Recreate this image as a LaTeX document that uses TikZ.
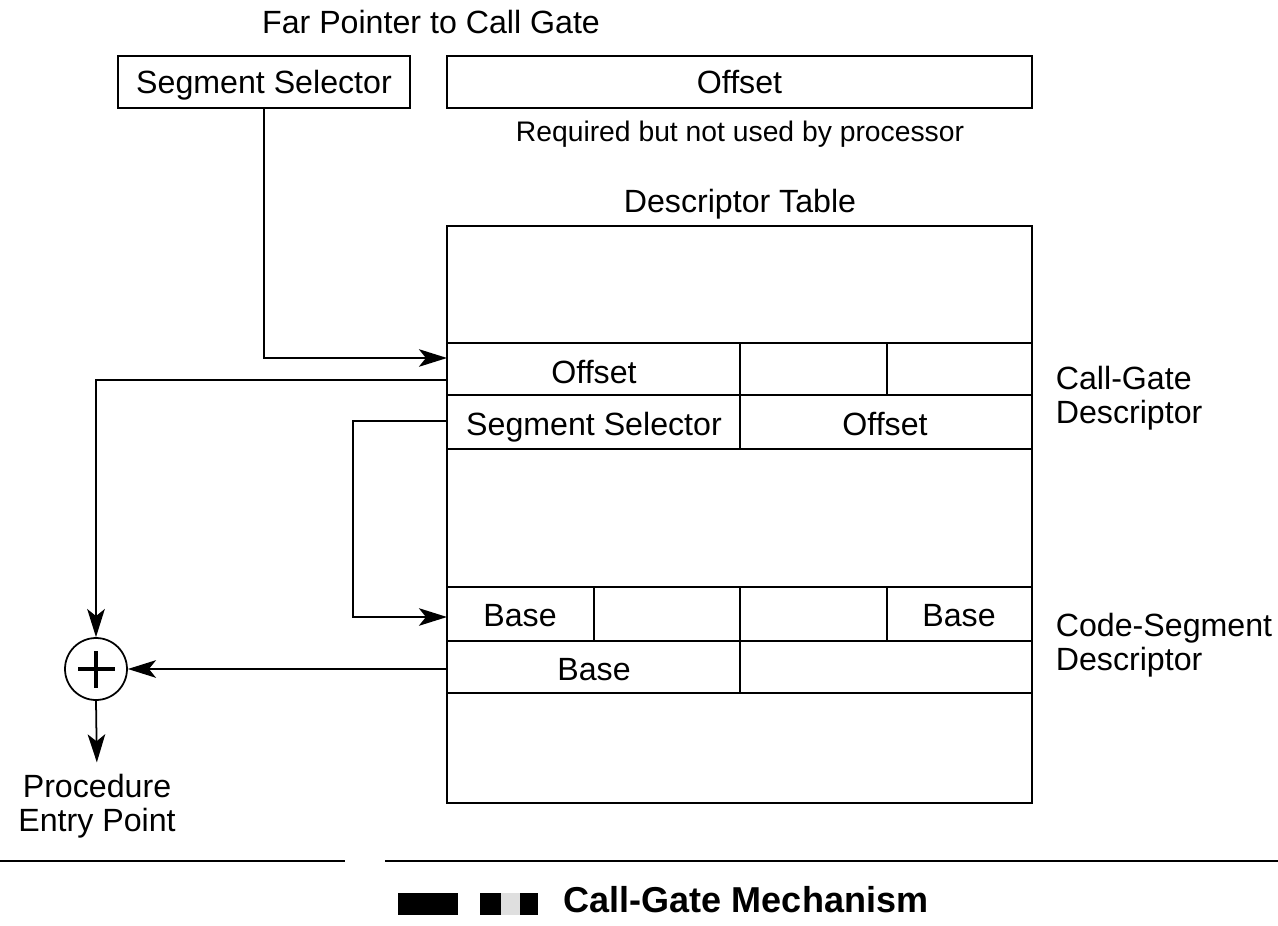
\documentclass[tikz,border=0pt]{standalone}
\usepackage{fontspec}
\setmainfont{Liberation Sans}
\usetikzlibrary{arrows.meta, calc}

\begin{document}
\begin{tikzpicture}[x=0.02cm, y=-0.02cm, line width=1pt,
  lbl/.style={font=\fontsize{18.3}{19.6}\selectfont, inner sep=0pt},
  cell/.style={lbl, text height=13.2pt, text depth=0pt},
  arr/.style={-{Stealth[length=16pt, width=10pt, inset=4pt]}}]
\useasboundingbox (0,0) rectangle (1278,926);
% far pointer
\node[cell] (fptitle) at (431,22) {Far Pointer to Call Gate};
\node[draw, cell, minimum width=5.84cm, minimum height=1.04cm] (ptrsel) at (264,82) {Segment Selector};
\node[draw, cell, minimum width=11.7cm, minimum height=1.04cm] (ptroff) at (739.5,82) {Offset};
\node[lbl, font=\fontsize{16.1}{18}\selectfont, text height=11.6pt, text depth=0pt] (unused) at (740,131) {Required but not used by processor};
% descriptor table
\node[cell] (dttitle) at (740,201) {Descriptor Table};
\node[draw, minimum width=11.7cm, minimum height=11.54cm] (table) at (739.5,514.5) {};
\foreach \y in {343,395,449,587,641,693}
  \draw (447,\y) -- (1032,\y);
\draw (740,343) -- (740,449);
\draw (887,343) -- (887,395);
\draw (594,587) -- (594,641);
\draw (740,587) -- (740,693);
\draw (887,587) -- (887,641);
% cell texts
\node[cell] (cgoff) at (594,372) {Offset};
\node[cell] (cgsel) at (594,424) {Segment Selector};
\node[cell] (cgoff2) at (885,424) {Offset};
\node[cell] (csbase1) at (520,615) {Base};
\node[cell] (csbase2) at (959,615) {Base};
\node[cell] (csbase3) at (594,669) {Base};
\node[lbl, align=left, anchor=west] (cgdesc) at (1055,398) {Call-Gate\\Descriptor};
\node[lbl, align=left, anchor=west] (csdesc) at (1055,645) {Code-Segment\\Descriptor};
% adder
\node[draw, circle, minimum size=1.24cm, inner sep=0pt] (adder) at (96,669) {};
\draw[line width=2.6pt] (78,669) -- (115,669) (96,651) -- (96,688);
\node[lbl, align=center] (entry) at (97,806) {Procedure\\Entry Point};
% connectors
\coordinate (gatein) at (447,358);
\coordinate (gateoff) at (447,380);
\coordinate (gatesel) at (447,421);
\coordinate (selturn) at (353,421);
\coordinate (codein) at (447,617);
\coordinate (codebase) at (447,669);
\draw[arr] (ptrsel.south) |- (gatein);
\draw[arr] (gateoff) -| (adder.north);
\draw[arr] (gatesel) -- (selturn) |- (codein);
\draw[arr] (codebase) -- (adder.east);
\draw[arr, shorten >=6pt] (adder.south) -- (entry.north);
% caption
\draw[line width=1.4pt] (0,861) -- (345,861);
\draw[line width=1.4pt] (385,861) -- (1278,861);
\fill (398,893) rectangle (458,915);
\fill (480,893) rectangle (501,915);
\fill[gray!25] (501,893) rectangle (520,915);
\fill (520,893) rectangle (538,915);
\node[font=\fontsize{20.5}{24}\selectfont\bfseries, inner sep=0pt, text height=14.7pt, text depth=0pt] (caption) at (746,900) {Call-Gate Mechanism};
\end{tikzpicture}
\end{document}
